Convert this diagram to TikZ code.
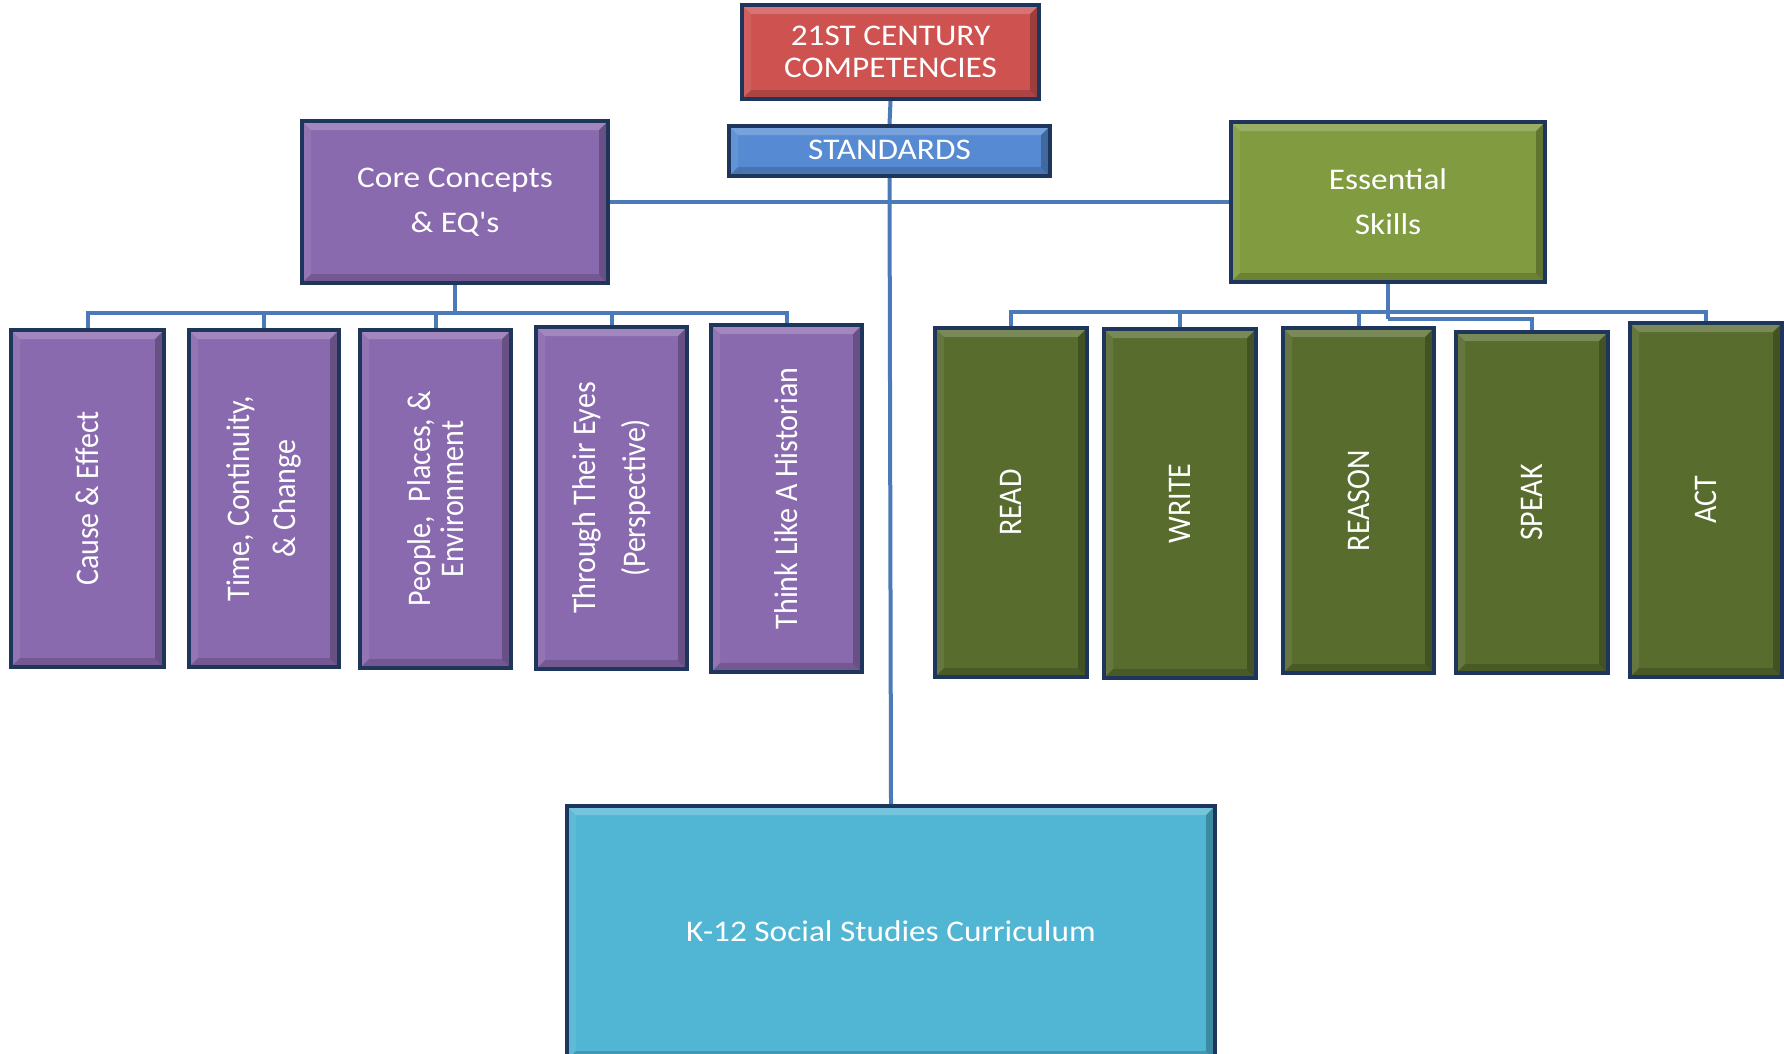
\documentclass[tikz,border=0pt]{standalone}
\usepackage{fontspec}
\setmainfont{Carlito}
\newfontfamily\hfont[FakeStretch=1.11]{Carlito}
\newfontfamily\vfont{Carlito}
\definecolor{compred}{RGB}{205,82,80}
\definecolor{stdblue}{RGB}{86,139,211}
\definecolor{conpurple}{RGB}{138,106,174}
\definecolor{essgreen}{RGB}{128,155,64}
\definecolor{skillgreen}{RGB}{88,108,46}
\definecolor{currcyan}{RGB}{80,182,212}
\definecolor{bordc}{RGB}{30,54,92}
\definecolor{connc}{RGB}{74,122,184}
\begin{document}
\begin{tikzpicture}[x=1pt,y=-1pt,
  bevel/.style={path picture={
    \fill[white,opacity=.2] (path picture bounding box.north west) -- (path picture bounding box.north east)
      -- ([shift={(-9pt,-9pt)}]path picture bounding box.north east) -- ([shift={(9pt,-9pt)}]path picture bounding box.north west) -- cycle;
    \fill[white,opacity=.08] (path picture bounding box.north west) -- ([shift={(9pt,-9pt)}]path picture bounding box.north west)
      -- ([shift={(9pt,9pt)}]path picture bounding box.south west) -- (path picture bounding box.south west) -- cycle;
    \fill[black,opacity=.24] (path picture bounding box.north east) -- (path picture bounding box.south east)
      -- ([shift={(-9pt,9pt)}]path picture bounding box.south east) -- ([shift={(-9pt,-9pt)}]path picture bounding box.north east) -- cycle;
    \fill[black,opacity=.16] (path picture bounding box.south west) -- (path picture bounding box.south east)
      -- ([shift={(-9pt,9pt)}]path picture bounding box.south east) -- ([shift={(9pt,9pt)}]path picture bounding box.south west) -- cycle;
  }},
  box/.style={draw=bordc, line width=4pt, inner sep=0pt, bevel, text=white, align=center,
    font=\hfont\fontsize{30}{45}\selectfont},
  vtext/.style={rotate=90, yscale=1.1, transform shape, text=white, align=center, inner sep=0pt,
    font=\vfont\fontsize{30}{42}\selectfont},
  conn/.style={draw=connc, line width=4pt}
]
\useasboundingbox (0,0) rectangle (1784,1053);
\fill[white] (0,0) rectangle (1784,1053);

% top boxes
\node[box, fill=compred, minimum width=297pt, minimum height=94pt,
  font=\hfont\fontsize{30}{32}\selectfont] (comp) at (890.5,52) {21ST CENTURY\\COMPETENCIES};
\node[box, fill=stdblue, minimum width=321pt, minimum height=50pt] (std) at (889.5,151) {\raisebox{3pt}{STANDARDS}};
\node[box, fill=conpurple, minimum width=306pt, minimum height=162pt] (core) at (455,202) {Core Concepts\\\& EQ's};
\node[box, fill=essgreen, minimum width=314pt, minimum height=160pt] (ess) at (1388,202) {Essential\\Skills};
\node[box, fill=currcyan, minimum width=648pt, minimum height=254pt] (k12) at (891,933) {\raisebox{4pt}{K-12 Social Studies Curriculum}};

% left children
\node[box, fill=conpurple, minimum width=153pt, minimum height=337pt] (L1) at (87.5,498.5) {};
\node[box, fill=conpurple, minimum width=150pt, minimum height=337pt] (L2) at (264,498.5) {};
\node[box, fill=conpurple, minimum width=151pt, minimum height=338pt] (L3) at (435.5,499) {};
\node[box, fill=conpurple, minimum width=151pt, minimum height=342pt] (L4) at (611.5,498) {};
\node[box, fill=conpurple, minimum width=151pt, minimum height=347pt] (L5) at (786.5,498.5) {};
\node[vtext] (L1t) at (L1.center) {Cause \& Effect};
\node[vtext] (L2t) at (L2.center) {Time, Continuity,\\\& Change};
\node[vtext, font=\vfont\fontsize{30}{30}\selectfont] (L3t) at (L3.center) {People,\ \ Places, \&\\Environment};
\node[vtext, font=\vfont\fontsize{30}{45}\selectfont] (L4t) at (L4.center) {Through Their Eyes\\(Perspective)};
\node[vtext] (L5t) at (L5.center) {Think Like A Historian};

% right children
\node[box, fill=skillgreen, minimum width=152pt, minimum height=349pt] (R1) at (1011,502.5) {};
\node[box, fill=skillgreen, minimum width=152pt, minimum height=349pt] (R2) at (1180,503.5) {};
\node[box, fill=skillgreen, minimum width=151pt, minimum height=345pt] (R3) at (1358.5,500.5) {};
\node[box, fill=skillgreen, minimum width=152pt, minimum height=341pt] (R4) at (1532,502.5) {};
\node[box, fill=skillgreen, minimum width=152pt, minimum height=354pt] (R5) at (1706,500) {};
\node[vtext] (R1t) at (R1.center) {READ};
\node[vtext] (R2t) at (R2.center) {WRITE};
\node[vtext] (R3t) at (R3.center) {REASON};
\node[vtext] (R4t) at (R4.center) {SPEAK};
\node[vtext] (R5t) at (R5.center) {ACT};

% connectors
\coordinate (lb) at (455,313);
\coordinate (rb) at (1388,312);
\coordinate (rb2) at (1388,319);
\draw[conn] (comp.south) -- (std.north);
\draw[conn] (std.south) -- (k12.north);
\draw[conn] (core.east) -- (ess.west);
\draw[conn] (core.south) -- (lb);
\draw[conn] (L1.north) |- (lb) -| (L5.north);
\draw[conn] (L2.north) -- (L2.north |- lb);
\draw[conn] (L3.north) -- (L3.north |- lb);
\draw[conn] (L4.north) -- (L4.north |- lb);
\draw[conn] (ess.south) -- (rb2);
\draw[conn] (R1.north) |- (rb) -| (R5.north);
\draw[conn] (R2.north) -- (R2.north |- rb);
\draw[conn] (R3.north) -- (R3.north |- rb);
\draw[conn] (rb2) -| (R4.north);
\end{tikzpicture}
\end{document}
